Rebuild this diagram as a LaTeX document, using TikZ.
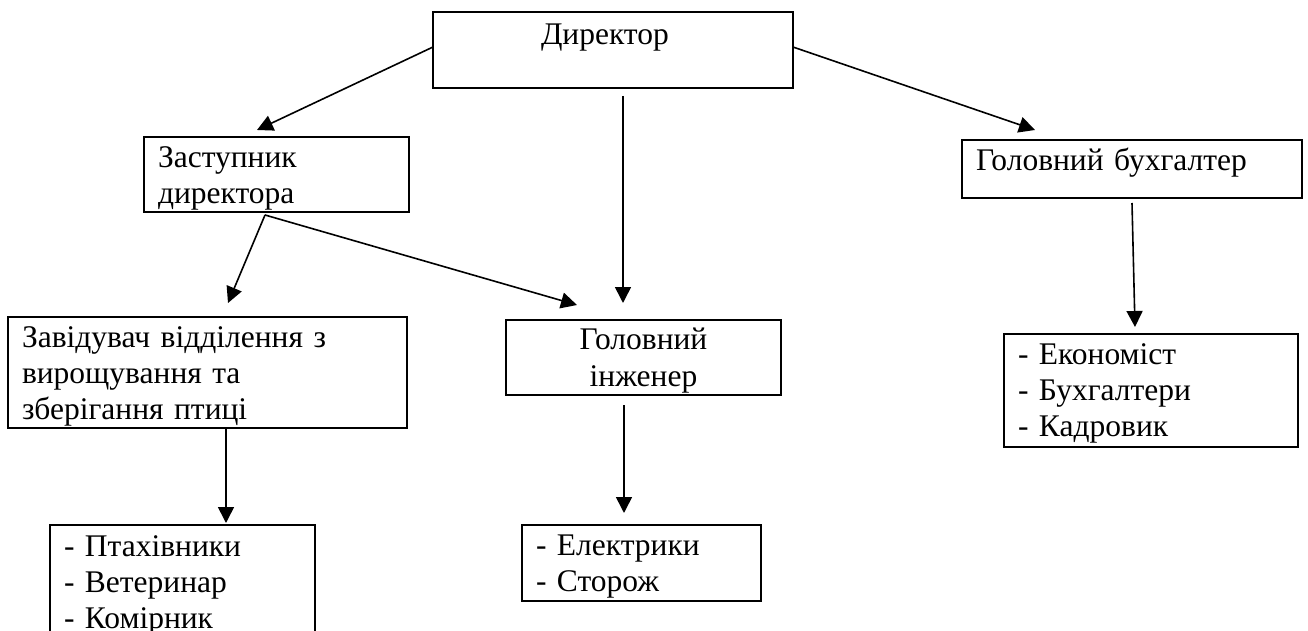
\documentclass[tikz,border=0pt]{standalone}
\usepackage{fontspec}
\setmainfont{Liberation Serif}
\usetikzlibrary{arrows.meta}
\tikzset{
  posada/.style={draw, line width=1pt, inner xsep=7pt, inner ysep=0pt, outer sep=0pt,
    anchor=north west, align=left, font=\fontsize{15.75pt}{18pt}\selectfont},
  strilka/.style={-{Triangle[length=8pt,width=8pt]}, line width=0.8pt}
}
\begin{document}
\begin{tikzpicture}[x=0.5pt,y=-0.5pt]
\useasboundingbox (0,0) rectangle (1308,631);
\node[posada, inner xsep=54pt, text width=72pt, text height=16.5pt, text depth=21.5pt] (dyr) at (433,12) {Директор};
\node[posada, text width=118.5pt, text height=15.5pt, text depth=22pt] (zast) at (144,137) {Заступник\\директора};
\node[posada, text width=156pt, text height=15.5pt, text depth=13.5pt] (buh) at (962,140) {Головний бухгалтер};
\node[posada, text width=185.5pt, text height=15pt, text depth=40.5pt] (zav) at (8,317) {Завідувач відділення з\\вирощування та\\зберігання птиці};
\node[posada, align=center, text width=123.5pt, text height=15pt, text depth=22.5pt] (inzh) at (506,320) {Головний\\інженер};
\node[posada, text width=133pt, text height=15pt, text depth=41.5pt] (ekon) at (1004,334) {- Економіст\\- Бухгалтери\\- Кадровик};
\node[posada, text width=118.5pt, text height=15.5pt, text depth=50pt] (ptah) at (50,525) {- Птахівники\\- Ветеринар\\- Комірник};
\node[posada, text width=105.5pt, text height=15pt, text depth=23pt] (elek) at (522,525) {- Електрики\\- Сторож};
\coordinate (zast-vyhid) at ([xshift=-5.75pt,yshift=-1.5pt]zast.south);
\draw[strilka] ([yshift=1.5pt]dyr.west) -- ([xshift=-9.75pt,yshift=3.5pt]zast.north);
\draw[strilka] ([yshift=1.5pt]dyr.east) -- ([xshift=-48.5pt,yshift=5pt]buh.north);
\draw[strilka] ([xshift=5pt,yshift=-4pt]dyr.south) -- ([xshift=-10.25pt,yshift=8.5pt]inzh.north);
\draw[strilka] (zast-vyhid) -- ([xshift=10.25pt,yshift=7pt]zav.north);
\draw[strilka] (zast-vyhid) -- ([xshift=-33.25pt,yshift=7.5pt]inzh.north);
\draw[strilka] ([yshift=-2.5pt]buh.south) -- ([xshift=-8pt,yshift=3.5pt]ekon.north);
\draw[strilka] ([xshift=9.25pt]zav.south) -- ([xshift=21.75pt,yshift=1pt]ptah.north);
\draw[strilka] ([xshift=-9.75pt,yshift=-5pt]inzh.south) -- ([xshift=-8.75pt,yshift=6pt]elek.north);
\end{tikzpicture}
\end{document}
